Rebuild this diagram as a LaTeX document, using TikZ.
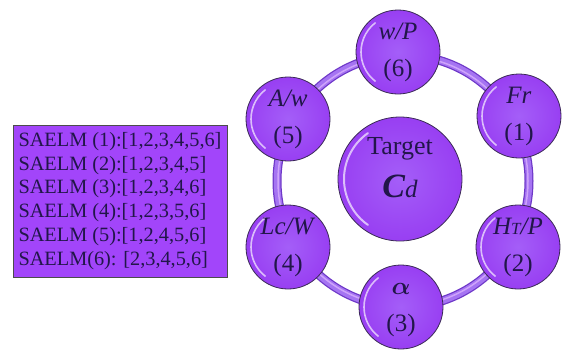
\documentclass[tikz,border=0pt]{standalone}
\usepackage{amsmath}
\usepackage{fontspec}
\setmainfont{Liberation Serif}
\usetikzlibrary{calc}
\definecolor{bubfill}{HTML}{983FF2}
\definecolor{bubin}{HTML}{A45EF8}
\definecolor{bubedge}{HTML}{3A2A55}
\definecolor{ringdark}{HTML}{6E38C8}
\definecolor{ringmid}{HTML}{A574F2}
\definecolor{ringhi}{HTML}{E0B8FF}
\definecolor{boxfill}{HTML}{A245FA}
\definecolor{txt}{HTML}{22164A}
\tikzset{
  bub/.style={circle, draw=bubedge, line width=0.8pt, inner color=bubin, outer color=bubfill, minimum size=84pt, inner sep=0pt},
  lab/.style={text=txt, font=\fontsize{25}{25}\selectfont, inner sep=0pt, text height=17pt, text depth=6pt, anchor=center},
  gloss/.style={white, opacity=.65, line width=1.6pt, line cap=round},
  listbox/.style={draw=black!70, line width=0.6pt, fill=boxfill, minimum width=214pt, minimum height=152pt, align=left, text=txt, inner sep=0pt, font=\fontsize{20.3}{23.8}\selectfont}
}
\newcommand{\bubble}[5]{%
  \node[bub] (#1) at (#2,-#3) {};
  \draw[gloss] ([shift={(128:37pt)}]#1.center) arc[start angle=128, end angle=232, radius=37pt];
  \node[lab] (#1a) at ([yshift=18pt]#1.center) {#4};
  \node[lab] (#1b) at ([yshift=-19pt]#1.center) {#5};
}
\begin{document}
\begin{tikzpicture}
\useasboundingbox (0pt,0pt) rectangle (563pt,-349pt);
% ring
\coordinate (ringc) at (403pt,-181pt);
\draw[ringdark, line width=9pt] (ringc) circle[radius=126pt];
\draw[ringmid, line width=6.5pt] (ringc) circle[radius=126pt];
\draw[ringhi, opacity=.7, line width=1.5pt] (ringc) circle[radius=125pt];
% list box
\node[listbox] (list) at (120pt,-201pt) {SAELM (1):[1,2,3,4,5,6]\\SAELM (2):[1,2,3,4,5]\\SAELM (3):[1,2,3,4,6]\\SAELM (4):[1,2,3,5,6]\\SAELM (5):[1,2,4,5,6]\\SAELM(6): [2,3,4,5,6]};
% bubbles
\bubble{n6}{398pt}{52pt}{\textit{w/P}}{(6)}
\bubble{n1}{519pt}{116pt}{\textit{Fr}}{(1)}
\bubble{n2}{518pt}{247pt}{\textit{H{\fontsize{17}{17}\selectfont T}/P}}{(2)}
\bubble{n3}{401pt}{307pt}{\fontsize{32}{32}\selectfont$\boldsymbol{\alpha}$}{(3)}
\bubble{n4}{288pt}{247pt}{\textit{Lc/W}}{(4)}
\bubble{n5}{288pt}{119pt}{\textit{A/w}}{(5)}
% center
\node[bub, minimum size=124pt] (ctr) at (400pt,-179pt) {};
\draw[gloss, line width=2pt] ([shift={(125:56pt)}]ctr.center) arc[start angle=125, end angle=235, radius=56pt];
\node[lab, font=\fontsize{26}{26}\selectfont] (ctra) at ([yshift=30pt]ctr.center) {Target};
\node[lab, text height=22pt] (ctrb) at ([yshift=-10pt]ctr.center) {{\fontsize{34}{34}\selectfont\bfseries\itshape C}{\itshape d}};
\end{tikzpicture}
\end{document}
